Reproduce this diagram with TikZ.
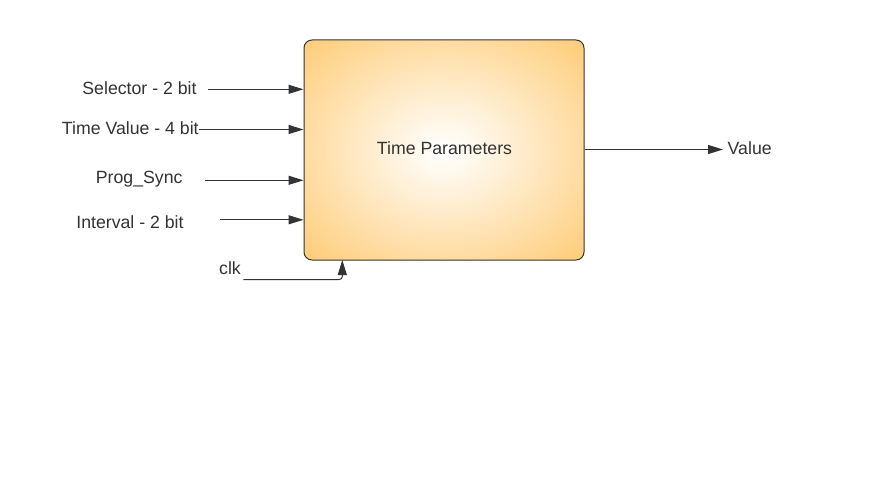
\documentclass[tikz,border=0pt]{standalone}
\usepackage{fontspec}
\setmainfont{Liberation Sans}
\usetikzlibrary{arrows.meta}
\definecolor{boxorange}{HTML}{FFBF58}
\definecolor{boxedge}{HTML}{FFCB75}
\definecolor{ink}{HTML}{333333}
\pgfdeclareradialshading{boxglow}{\pgfpoint{0bp}{0bp}}{color(0bp)=(white); color(6bp)=(white!85!boxedge); color(36bp)=(boxedge); color(55bp)=(boxorange); color(100bp)=(boxorange)}

\begin{document}
\begin{tikzpicture}[x=1pt,y=-1pt,
		every node/.style={inner sep=0pt, text=ink, font=\fontsize{17.7}{21}\selectfont},
		block/.style={draw=ink, line width=1pt, rounded corners=8pt, shading=boxglow, minimum width=280pt, minimum height=220pt},
		label/.style={anchor=base},
		signal/.style={draw=ink, line width=1pt, -{Triangle[length=15pt,width=9pt]}}]
		\useasboundingbox (0,0) rectangle (880,481);
		\node [block] (tp) at (444,150) {};
		\node [label] at (444.5,154.8) {Time Parameters};
		\node [label] (sel) at (139.5,94.8) {Selector - 2 bit};
		\node [label] (tval) at (130.3,134.8) {Time Value - 4 bit};
		\node [label] (prog) at (139.2,184) {Prog\_Sync};
		\node [label] (intv) at (130,228.5) {Interval - 2 bit};
		\node [label] (clk) at (230,274.8) {clk};
		\node [label] (val) at (749.7,154.8) {Value};
		\coordinate (selin) at (208.3,89.3);
		\coordinate (tvalin) at (199,129.5);
		\coordinate (progin) at (205,180.3);
		\coordinate (intvin) at (220,219.8);
		\coordinate (clkin) at (243.3,279.5);
		\coordinate (clkpin) at (342.3,260);
		\coordinate (valout) at (723,149.5);
		\draw [signal] (selin) -- (selin -| tp.west);
		\draw [signal] (tvalin) -- (tvalin -| tp.west);
		\draw [signal] (progin) -- (progin -| tp.west);
		\draw [signal] (intvin) -- (intvin -| tp.west);
		\draw [signal, rounded corners=3pt] (clkin) -| (clkpin);
		\draw [signal] (valout -| tp.east) -- (valout);
\end{tikzpicture}
\end{document}
